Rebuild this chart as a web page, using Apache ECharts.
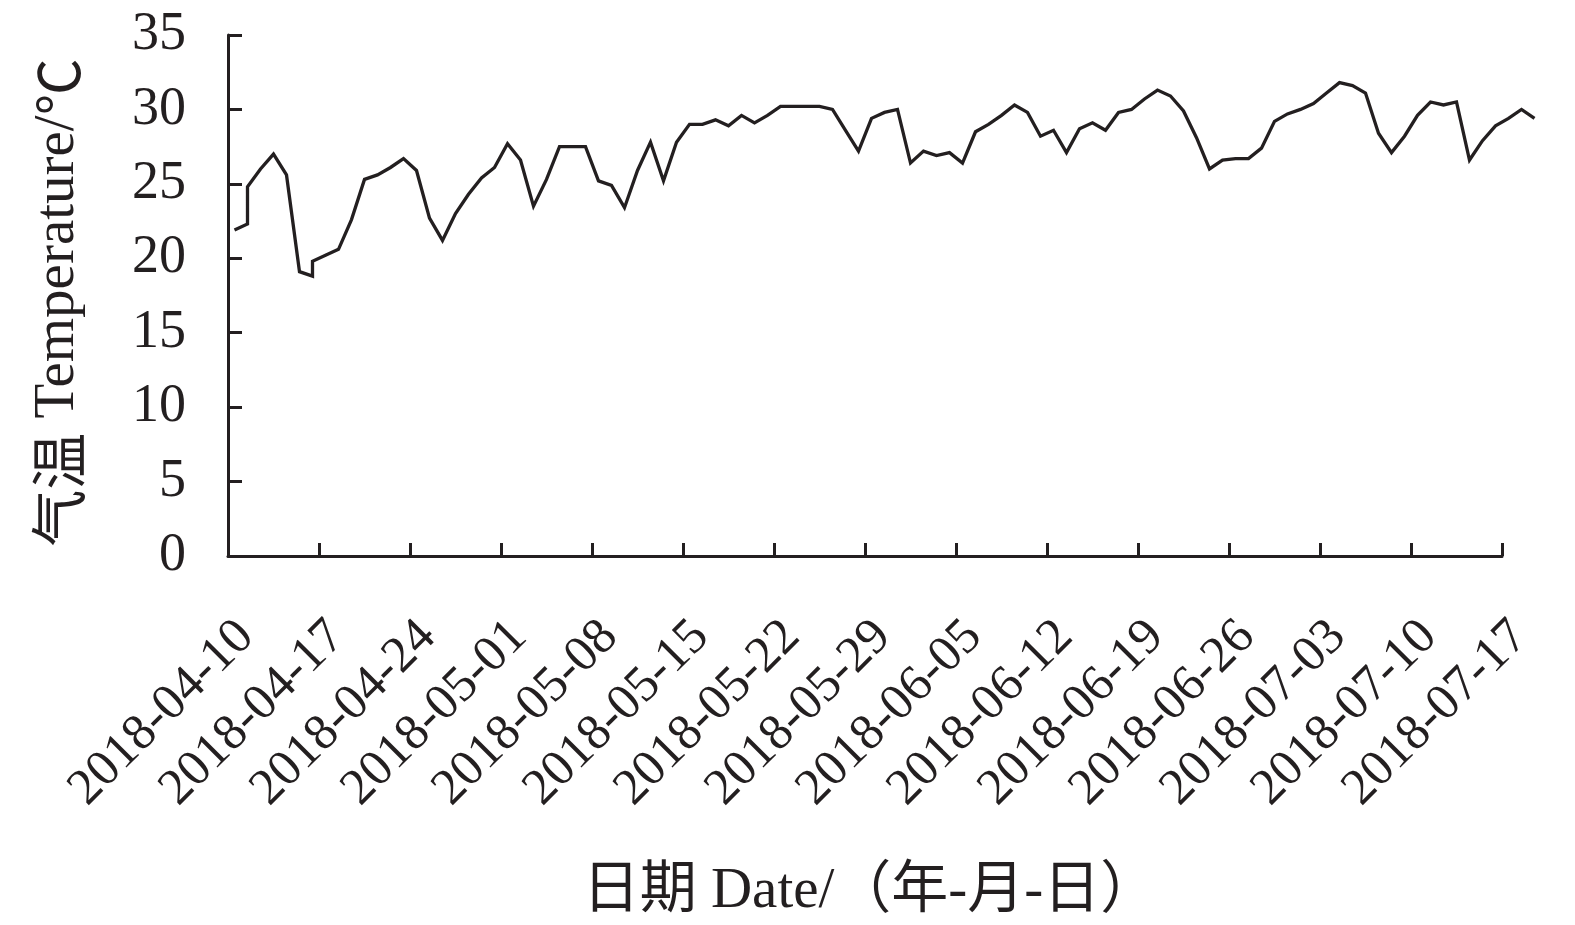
<!DOCTYPE html>
<html><head><meta charset="utf-8">
<script src="https://cdn.jsdelivr.net/npm/echarts@6/dist/echarts.min.js"></script>
<style>html,body{margin:0;padding:0;background:#fff}#chart{width:1575px;height:925px}</style>
</head><body><div id="chart"></div>
<script>
const startDate = '2018-04-10';
const tickLabels = ['2018-04-10','2018-04-17','2018-04-24','2018-05-01','2018-05-08','2018-05-15','2018-05-22',
  '2018-05-29','2018-06-05','2018-06-12','2018-06-19','2018-06-26','2018-07-03','2018-07-10','2018-07-17'];
const pointDates = [
  '2018-04-10','2018-04-11','2018-04-11','2018-04-12','2018-04-13','2018-04-14','2018-04-15','2018-04-16','2018-04-16',
  '2018-04-17','2018-04-18','2018-04-19','2018-04-20','2018-04-21','2018-04-22','2018-04-23','2018-04-24','2018-04-25',
  '2018-04-26','2018-04-27','2018-04-28','2018-04-29','2018-04-30','2018-05-01','2018-05-02','2018-05-03','2018-05-04',
  '2018-05-05','2018-05-06','2018-05-07','2018-05-08','2018-05-09','2018-05-10','2018-05-11','2018-05-12','2018-05-13',
  '2018-05-14','2018-05-15','2018-05-16','2018-05-17','2018-05-18','2018-05-19','2018-05-20','2018-05-21','2018-05-22',
  '2018-05-23','2018-05-24','2018-05-25','2018-05-26','2018-05-27','2018-05-28','2018-05-29','2018-05-30','2018-05-31',
  '2018-06-01','2018-06-02','2018-06-03','2018-06-04','2018-06-05','2018-06-06','2018-06-07','2018-06-08','2018-06-09',
  '2018-06-10','2018-06-11','2018-06-12','2018-06-13','2018-06-14','2018-06-15','2018-06-16','2018-06-17','2018-06-18',
  '2018-06-19','2018-06-20','2018-06-21','2018-06-22','2018-06-23','2018-06-24','2018-06-25','2018-06-26','2018-06-27',
  '2018-06-28','2018-06-29','2018-06-30','2018-07-01','2018-07-02','2018-07-03','2018-07-04','2018-07-05','2018-07-06',
  '2018-07-07','2018-07-08','2018-07-09','2018-07-10','2018-07-11','2018-07-12','2018-07-13','2018-07-14','2018-07-15',
  '2018-07-16','2018-07-17','2018-07-18','2018-07-19'];
const temps = [
  21.9, 22.3, 24.8, 26.0, 27.0, 25.6, 19.1, 18.8, 19.8,
  20.2, 20.6, 22.6, 25.3, 25.6, 26.1, 26.7, 25.9, 22.7,
  21.2, 23.0, 24.3, 25.4, 26.1, 27.7, 26.6, 23.5, 25.3,
  27.5, 27.5, 27.5, 25.2, 24.9, 23.4, 25.9, 27.8, 25.2,
  27.8, 29.0, 29.0, 29.3, 28.9, 29.6, 29.1, 29.6, 30.2,
  30.2, 30.2, 30.2, 30.0, 28.6, 27.2, 29.4, 29.8, 30.0,
  26.4, 27.2, 26.9, 27.1, 26.4, 28.5, 29.0, 29.6, 30.3,
  29.8, 28.2, 28.6, 27.1, 28.7, 29.1, 28.6, 29.8, 30.0,
  30.7, 31.3, 30.9, 29.9, 28.1, 26.0, 26.6, 26.7, 26.7,
  27.4, 29.2, 29.7, 30.0, 30.4, 31.1, 31.8, 31.6, 31.1,
  28.4, 27.1, 28.2, 29.6, 30.5, 30.3, 30.5, 26.6, 27.9,
  28.9, 29.4, 30.0, 29.4];
const yMin = 0, yMax = 35, yStep = 5;
const xStepDays = 7;

const DAY = 86400000;
const t0 = Date.parse(startDate);
const dayOf = d => (Date.parse(d) - t0) / DAY;
// each daily reading is placed in the middle of its day
const seriesData = pointDates.map((d, i) => [dayOf(d) + 0.5, temps[i]]);
const axisDays = dayOf(tickLabels[tickLabels.length - 1]);      // drawn axis: 04-10 .. 07-17
const dataDays = dayOf(pointDates[pointDates.length - 1]) + 1;  // data run past the axis end

const INK = '#231f20';
const FONT = "'Liberation Serif','Noto Sans CJK SC',serif";
const CJK = "'Noto Sans CJK SC'";
const LEFT = 228, TOP = 35, BOTTOM = 369, DAYPX = 13.0;
const chart = echarts.init(document.getElementById('chart'), null, {renderer: 'canvas'});
chart.setOption({
  animation: false,
  backgroundColor: '#ffffff',
  grid: [
    {left: LEFT, width: dataDays * DAYPX, top: TOP, bottom: BOTTOM, containLabel: false, outerBoundsMode: 'none'},
    {left: LEFT, width: axisDays * DAYPX, top: TOP, bottom: BOTTOM, containLabel: false, outerBoundsMode: 'none'}
  ],
  xAxis: [
    {gridIndex: 0, type: 'value', min: 0, max: dataDays, show: false},
    {
      gridIndex: 1, type: 'value', min: 0, max: axisDays, interval: xStepDays,
      name: '日期 Date/（年-月-日）', nameLocation: 'middle', nameGap: 308, nameMoveOverlap: false,
      nameTextStyle: {fontFamily: FONT, fontSize: 57, color: INK, padding: [0, 0, 0, 10]},
      axisLine: {show: true, onZero: false, lineStyle: {color: INK, width: 3}},
      axisTick: {show: true, inside: true, length: 13, lineStyle: {color: INK, width: 3}},
      splitLine: {show: false},
      axisLabel: {
        rotate: 45, margin: 55, verticalAlign: 'top', lineHeight: 51,
        fontFamily: FONT, fontSize: 51, color: INK,
        formatter: v => tickLabels[Math.round(v / xStepDays)] || ''
      }
    }
  ],
  yAxis: [
    {gridIndex: 0, type: 'value', min: yMin, max: yMax, show: false},
    {
      gridIndex: 1, type: 'value', min: yMin, max: yMax, interval: yStep,
      name: '{c|气温} Temperature/{c|℃}', nameLocation: 'middle', nameGap: 141, nameMoveOverlap: false,
      nameTextStyle: {fontFamily: FONT, fontSize: 57, color: INK, padding: [0, 14, 0, 0],
        rich: {c: {fontFamily: CJK, fontSize: 57, color: INK}}},
      axisLine: {show: true, onZero: false, lineStyle: {color: INK, width: 3}},
      axisTick: {show: true, inside: true, length: 14, lineStyle: {color: INK, width: 3}},
      splitLine: {show: false},
      axisLabel: {margin: 42, fontFamily: FONT, fontSize: 54, color: INK}
    }
  ],
  series: [{
    type: 'line', xAxisIndex: 0, yAxisIndex: 0, data: seriesData, clip: false,
    showSymbol: false, symbol: 'none',
    lineStyle: {color: INK, width: 3.3, join: 'miter'}
  }]
});
</script></body></html>
